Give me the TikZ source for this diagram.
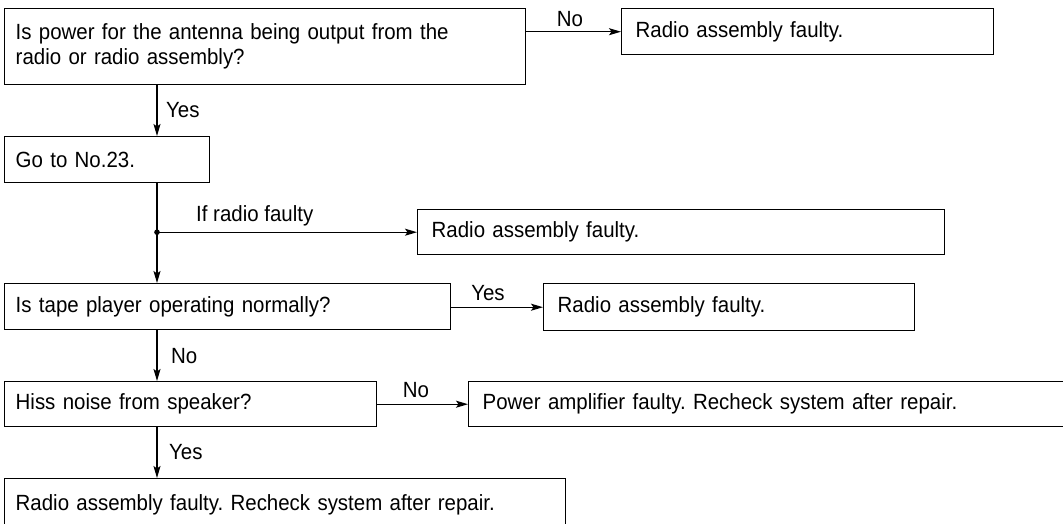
\documentclass[tikz,border=0pt]{standalone}
\usepackage{fontspec}
\setmainfont{Liberation Sans}[FakeStretch=0.93]
\usetikzlibrary{arrows.meta}
\frenchspacing
\newcommand{\boxfont}{\fontsize{22}{25}\selectfont\frenchspacing}
\tikzset{
  box/.style={draw, line width=1.4pt, rectangle, anchor=north west, inner xsep=11pt, inner ysep=0pt, align=left, font=\boxfont},
  arr/.style={line width=1.2pt, -{Stealth[length=12pt,width=7pt,inset=2.5pt]}},
  lbl/.style={font=\boxfont, inner sep=0pt}
}
\begin{document}
\begin{tikzpicture}[x=1pt,y=-1pt]
\useasboundingbox (0,0) rectangle (1063,523);
\clip (0,0) rectangle (1063,523);
\fill[white] (0,0) rectangle (1063,523);
% boxes
\node[box, text width=499pt, minimum height=76pt] (b1) at (4,8) {Is power for the antenna being output from the\\radio or radio assembly?};
\node[box, text width=344pt, minimum height=46pt, inner xsep=14pt] (r1) at (621,8) {Radio assembly faulty.};
\node[box, text width=183pt, minimum height=46pt] (b2) at (4,136) {Go to No.23.};
\node[box, text width=499pt, minimum height=45pt, inner xsep=14pt] (r2) at (417,209) {Radio assembly faulty.};
\node[box, text width=424pt, minimum height=46pt] (b3) at (4,283) {Is tape player operating normally?};
\node[box, text width=343pt, minimum height=47pt, inner xsep=14pt] (r3) at (543,283) {Radio assembly faulty.};
\node[box, text width=350pt, minimum height=45pt] (b4) at (4,381) {Hiss noise from speaker?};
\node[box, text width=600pt, minimum height=45pt, inner xsep=14pt] (r4) at (468,381) {Power amplifier faulty. Recheck system after repair.};
\node[box, text width=539pt, minimum height=52pt] (b5) at (4,478) {Radio assembly faulty. Recheck system after repair.};
% spine
\coordinate (sp) at (157,0);
\coordinate (dot) at (sp |- r2.west);
% connectors
\draw[arr] (b1.east |- r1.west) -- (r1.west);
\node[lbl, anchor=south] (lno1) at (570,27) {No};
\draw[arr] (b1.south -| sp) -- (b2.north -| sp);
\node[lbl, anchor=west] (lyes1) at (166,110) {Yes};
\draw[arr] (b2.south -| sp) -- (b3.north -| sp);
\fill (dot) circle (2.8pt);
\draw[arr] (dot) -- (r2.west);
\node[lbl, anchor=south west] (lif) at (196,226) {If radio faulty};
\draw[arr] (b3.east |- r3.west) -- (r3.west);
\node[lbl, anchor=south] (lyes2) at (488,301) {Yes};
\draw[arr] (b3.south -| sp) -- (b4.north -| sp);
\node[lbl, anchor=west] (lno2) at (171,356) {No};
\draw[arr] (b4.east |- r4.west) -- (r4.west);
\node[lbl, anchor=south] (lno3) at (416,398) {No};
\draw[arr] (b4.south -| sp) -- (b5.north -| sp);
\node[lbl, anchor=west] (lyes3) at (169,452) {Yes};
\end{tikzpicture}
\end{document}
